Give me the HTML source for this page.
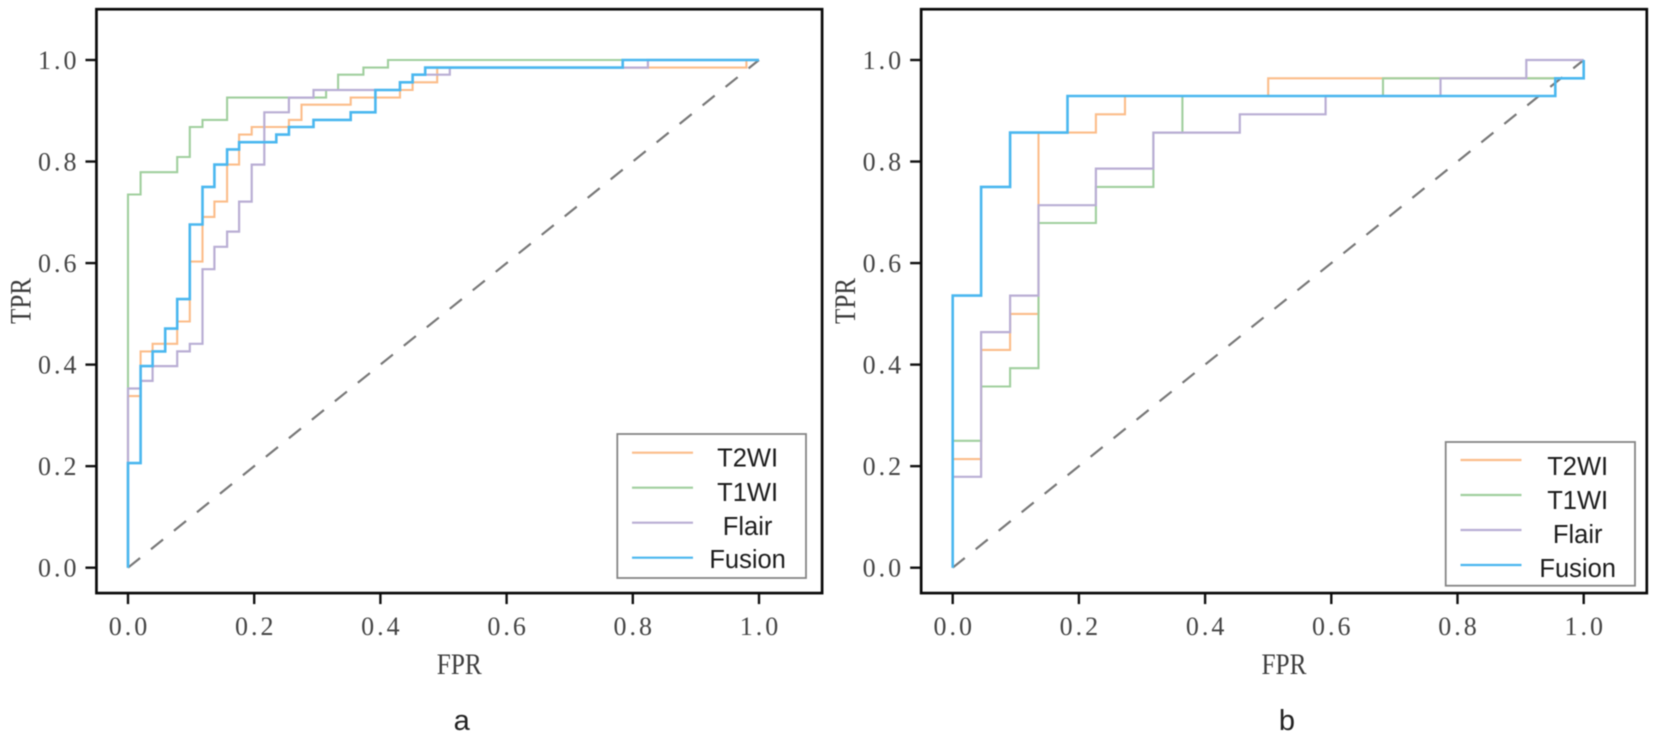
<!DOCTYPE html>
<html lang="en">
<head>
<meta charset="utf-8">
<title>ROC curves a and b</title>
<style>
html,body{margin:0;padding:0;background:#fff;width:1654px;height:741px;overflow:hidden}
svg{display:block;filter:blur(0.5px)}
.tick{font-family:"Liberation Serif",serif;font-size:26px;fill:#444;letter-spacing:3px}
.axis-label{font-family:"Liberation Serif",serif;font-size:30px;fill:#3c3c3c}
.legend-text{font-family:"Liberation Sans",sans-serif;font-size:25.5px;fill:#1c1c1c;text-anchor:middle}
.panel-label{font-family:"Liberation Sans",sans-serif;font-size:29px;fill:#222;text-anchor:middle}
</style>
</head>
<body>
<svg id="chart" xmlns="http://www.w3.org/2000/svg" width="1654" height="741" viewBox="0 0 1654 741"></svg>
<script>
const tickValues = [0, 0.2, 0.4, 0.6, 0.8, 1.0];
const tickLabels = ["0.0", "0.2", "0.4", "0.6", "0.8", "1.0"];
const seriesNames = ["T2WI", "T1WI", "Flair", "Fusion"];

const panelAT2Fpr = [0,.020,.039,.078,.098,.118,.137,.157,.176,.196,.255,.275,.353,.431,.451,.490,.980,1];
const panelAT2Tpr = [.338,.426,.441,.485,.603,.691,.721,.794,.853,.868,.882,.912,.926,.941,.956,.985,1,1];
const panelAT1Fpr = [0,.020,.078,.098,.118,.157,.314,.333,.373,.412,1];
const panelAT1Tpr = [.735,.779,.809,.868,.882,.926,.941,.971,.985,1,1];
const panelAFlairFpr = [0,.020,.039,.078,.098,.118,.137,.157,.176,.196,.216,.255,.294,.431,.451,.510,.824,1];
const panelAFlairTpr = [.353,.368,.397,.426,.441,.588,.632,.662,.721,.794,.897,.926,.941,.956,.971,.985,1,1];
const panelAFusionFpr = [0,.020,.039,.059,.078,.098,.118,.137,.157,.176,.235,.255,.294,.353,.392,.431,.451,.471,.784,1];
const panelAFusionTpr = [.206,.397,.426,.471,.529,.676,.750,.794,.824,.838,.853,.868,.882,.897,.941,.956,.971,.985,1,1];

const panelBT2Fpr = [0,.045,.091,.136,.227,.273,.500,1];
const panelBT2Tpr = [.214,.429,.500,.857,.893,.929,.964,1];
const panelBT1Fpr = [0,.045,.091,.136,.227,.318,.364,.682,1];
const panelBT1Tpr = [.250,.357,.393,.679,.750,.857,.929,.964,1];
const panelBFlairFpr = [0,.045,.091,.136,.227,.318,.455,.591,.773,.909,1];
const panelBFlairTpr = [.179,.464,.536,.714,.786,.857,.893,.929,.964,1,1];
const panelBFusionFpr = [0,.045,.091,.182,.955,1];
const panelBFusionTpr = [.536,.750,.857,.929,.964,1];

const NS = "http://www.w3.org/2000/svg";
const root = document.getElementById("chart");
const seriesColors = ["#fcbd8a", "#a0cf9e", "#b9aed4", "#4ab7ef"];
const seriesWidths = [2.1, 2.1, 2.2, 2.6];

function make(tag, parent, attrs) {
  const el = document.createElementNS(NS, tag);
  for (const k in attrs) el.setAttribute(k, attrs[k]);
  parent.appendChild(el);
  return el;
}

function drawPanel(cfg) {
  const g = make("g", root, {});
  
  

  const xScale = v => cfg.x0 + v * 631;
  const yScale = v => 567.7 - v * 507.7;
  const left = xScale(-0.05), right = xScale(1.1), top = yScale(1.1), bottom = yScale(-0.05);

  // ticks and tick labels
  tickValues.forEach((v, i) => {
    const xt = make("line", g, {x1: xScale(v), x2: xScale(v), y1: bottom, y2: bottom + 11, stroke: "#111", "stroke-width": 2.4});
    
    
    const yt = make("line", g, {x1: left - 11, x2: left, y1: yScale(v), y2: yScale(v), stroke: "#111", "stroke-width": 2.4});
    
    
    const xl = make("text", g, {x: xScale(v) + 1.5, y: 635, "text-anchor": "middle", class: "tick"});
    xl.textContent = tickLabels[i];
    
    
    const yl = make("text", g, {x: left - 20 + 3, y: yScale(v) + 9, "text-anchor": "end", class: "tick"});
    yl.textContent = tickLabels[i];
    
    
  });

  // chance line
  const chance = make("line", g, {x1: xScale(0), y1: yScale(0), x2: xScale(1), y2: yScale(1), stroke: "#787878", "stroke-width": 2.2, "stroke-dasharray": "15.5 14"});
  
  

  // series
  cfg.series.forEach((s, i) => {
    let d = "M" + xScale(s.fpr[0]).toFixed(1) + " " + yScale(0).toFixed(1);
    s.fpr.forEach((f, j) => {
      const prev = j === 0 ? 0 : s.tpr[j - 1];
      d += "L" + xScale(f).toFixed(1) + " " + yScale(prev).toFixed(1);
      d += "L" + xScale(f).toFixed(1) + " " + yScale(s.tpr[j]).toFixed(1);
    });
    const p = make("path", g, {d: d, fill: "none", stroke: seriesColors[i], "stroke-width": seriesWidths[i], "stroke-linejoin": "miter"});
    
    
  });

  // frame
  const frame = make("rect", g, {x: left, y: top, width: right - left, height: bottom - top, fill: "none", stroke: "#0a0a0a", "stroke-width": 2.7});
  
  

  // axis titles
  const xt = make("text", g, {x: (left + right) / 2, y: 674, "text-anchor": "middle", class: "axis-label", textLength: 45, lengthAdjust: "spacingAndGlyphs"});
  xt.textContent = "FPR";
  
  
  const yt = make("text", g, {x: 0, y: 0, "text-anchor": "middle", class: "axis-label", textLength: 46, lengthAdjust: "spacingAndGlyphs", transform: "translate(" + (left - 66) + " 301) rotate(-90)"});
  yt.textContent = "TPR";
  
  

  // legend
  const L = cfg.legend;
  const lg = make("g", g, {});
  
  
  const box = make("rect", lg, {x: L.x, y: L.y, width: L.w, height: L.h, fill: "#fff", stroke: "#858585", "stroke-width": 1.8});
  
  
  seriesNames.forEach((n, i) => {
    const hy = L.handleY + i * 35;
    const h = make("line", lg, {x1: L.handleX, x2: L.handleX + 61, y1: hy, y2: hy, stroke: seriesColors[i], "stroke-width": 2.2});
    
    
    const t = make("text", lg, {x: L.textX, y: L.textY[i], class: "legend-text"});
    t.textContent = n;
    
    
  });

  // panel letter
  const pl = make("text", g, {x: cfg.labelX, y: 730, class: "panel-label"});
  pl.textContent = cfg.id;
  
  
}

drawPanel({
  id: "a", x0: 128, labelX: 461.7,
  legend: {x: 617.3, y: 434, w: 188.7, h: 144, handleX: 632, handleY: 452.7, textX: 747.6, textY: [466.5, 501, 535, 568]},
  series: [
    {fpr: panelAT2Fpr, tpr: panelAT2Tpr},
    {fpr: panelAT1Fpr, tpr: panelAT1Tpr},
    {fpr: panelAFlairFpr, tpr: panelAFlairTpr},
    {fpr: panelAFusionFpr, tpr: panelAFusionTpr}
  ]
});
drawPanel({
  id: "b", x0: 952.7, labelX: 1287,
  legend: {x: 1445.7, y: 442, w: 189.3, h: 143.7, handleX: 1460.5, handleY: 460, textX: 1577.7, textY: [475, 509, 543, 577]},
  series: [
    {fpr: panelBT2Fpr, tpr: panelBT2Tpr},
    {fpr: panelBT1Fpr, tpr: panelBT1Tpr},
    {fpr: panelBFlairFpr, tpr: panelBFlairTpr},
    {fpr: panelBFusionFpr, tpr: panelBFusionTpr}
  ]
});
</script>
</body>
</html>
